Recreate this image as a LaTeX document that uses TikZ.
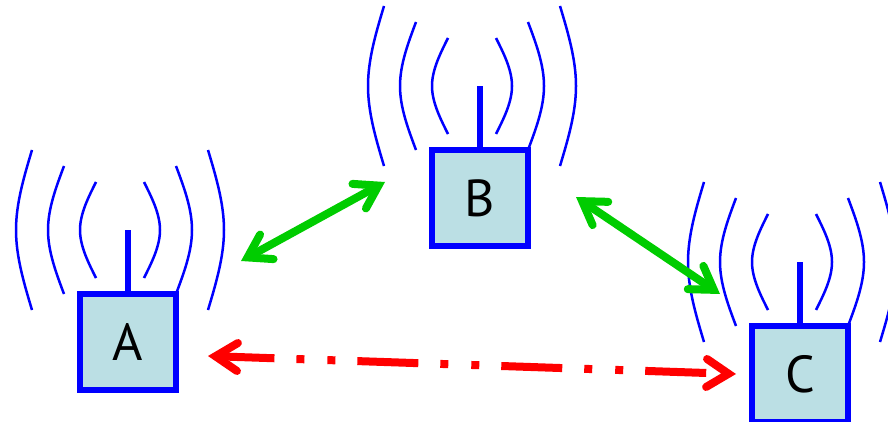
\documentclass[tikz,border=0pt]{standalone}
\usepackage{fontspec}
\setsansfont{PT Sans}
\usetikzlibrary{calc,arrows.meta}
\definecolor{boxfill}{HTML}{BBDFE4}
\definecolor{linkgreen}{HTML}{00CC00}
\tikzset{
    station/.style={draw=blue,fill=boxfill,line width=6pt,minimum size=96pt,inner sep=0pt,font=\sffamily\fontsize{52}{52}\selectfont},
    mast/.style={blue,line width=6pt},
    wave/.style={blue,line width=2.5pt},
    link/.style={line width=8pt,{Straight Barb[line cap=round,line join=miter,length=22pt,width=28pt]}-{Straight Barb[line cap=round,line join=miter,length=22pt,width=28pt]}},
}
\begin{document}
\begin{tikzpicture}[x=1pt,y=-1pt]

        %frame
        \clip (0,0) rectangle (888,422);
        \useasboundingbox (0,0) rectangle (888,422);

        %stations
        \node[station] (A) at (128,342) {\raisebox{-1pt}{A}};
        \node[station] (B) at (480,198) {\raisebox{-1pt}{B}};
        \node[station] (C) at (800,374) {\raisebox{-1pt}{C}};

        %masts and waves
        \foreach \n in {A,B,C}{
        	\draw[mast] (\n.north) -- ++(0,-61) coordinate (\n-top);
        	\foreach \o/\m/\h in {-32/-48/48,-64/-80/64,-96/-112/80,16/32/48,48/64/64,80/96/80}
        	\draw[wave,shift={(\n-top)}] (\o,-\h) .. controls ($(\o,-\h)!0.5!(\m,-\h/3)$) and (\m,-\h/3) .. (\m,0)
        	.. controls (\m,\h/3) and ($(\o,\h)!0.5!(\m,\h/3)$) .. (\o,\h);
        }

        %link ends
        \coordinate (AB1) at (241,261);
        \coordinate (AB2) at (385,182);
        \coordinate (BC1) at (576,197);
        \coordinate (BC2) at (720,294);
        \coordinate (AC1) at (208,356);
        \coordinate (AC2) at (736,374);

        %links
        \draw[link,linkgreen] (AB1) -- (AB2);
        \draw[link,linkgreen] (BC1) -- (BC2);
        \draw[link,red,dash pattern=on 61pt off 22pt on 8pt off 23pt on 8pt off 22pt,dash phase=6pt] (AC1) -- (AC2);

\end{tikzpicture}
\end{document}
